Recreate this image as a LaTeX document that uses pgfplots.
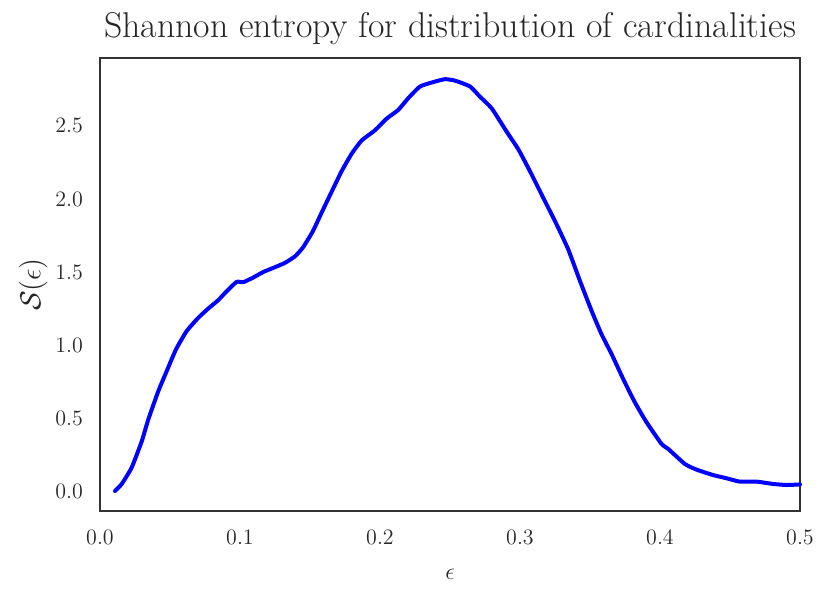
\documentclass[border=0pt]{standalone}
\usepackage{pgfplots}
\pgfplotsset{compat=1.18}
\definecolor{txt}{RGB}{38,38,38}
\definecolor{frame}{RGB}{51,51,51}
\begin{document}
\begin{tikzpicture}
\begin{axis}[
  scale only axis,
  width=350pt, height=226.5pt,
  xmin=0, xmax=0.5,
  ymin=-0.137, ymax=2.965,
  xtick={0,0.1,0.2,0.3,0.4,0.5},
  ytick={0,0.5,1,1.5,2,2.5},
  xticklabels={0.0,0.1,0.2,0.3,0.4,0.5},
  yticklabels={0.0,0.5,1.0,1.5,2.0,2.5},
  major tick length=0pt,
  axis line style={frame, line width=1.25pt},
  tick label style={font=\fontsize{11}{13}\selectfont, text=txt},
  xticklabel style={yshift=-6pt},
  yticklabel style={xshift=-5pt},
  xlabel={$\epsilon$},
  ylabel={$\mathcal{S}(\epsilon)$},
  xlabel style={font=\fontsize{13}{15}\selectfont, text=txt, yshift=-5pt},
  ylabel style={font=\fontsize{14}{16}\selectfont, text=txt, yshift=-3pt},
  title={Shannon entropy for distribution of cardinalities},
  title style={font=\fontsize{17.9}{21}\selectfont, text=txt, yshift=-3pt},
  clip=false,
]
\addplot[blue, line width=2pt, line join=round, line cap=round, smooth, tension=0.3] coordinates {
(0.0107,0.00) (0.0155,0.048) (0.0226,0.16) (0.0298,0.34) (0.0345,0.49)
(0.0417,0.685) (0.0476,0.82) (0.0543,0.97) (0.0619,1.095) (0.0702,1.186)
(0.0774,1.25) (0.0845,1.307) (0.0905,1.368) (0.0976,1.432) (0.1024,1.43)
(0.1095,1.462) (0.1167,1.50) (0.1238,1.528) (0.1321,1.562) (0.1393,1.607)
(0.145,1.668) (0.152,1.778) (0.158,1.90) (0.1655,2.05) (0.1726,2.19)
(0.1798,2.31) (0.1869,2.40) (0.1964,2.47) (0.2048,2.55) (0.2131,2.61)
(0.2202,2.69) (0.2286,2.77) (0.238,2.80) (0.2464,2.82) (0.2536,2.81)
(0.2643,2.77) (0.2714,2.70) (0.2798,2.62) (0.2905,2.46) (0.2988,2.34)
(0.3071,2.19) (0.3167,2.006) (0.3262,1.824) (0.3345,1.653) (0.3429,1.437)
(0.3512,1.232) (0.3583,1.072) (0.3655,0.936) (0.3738,0.765) (0.3821,0.606)
(0.3905,0.469) (0.4012,0.321) (0.406,0.287) (0.4179,0.184) (0.4262,0.146)
(0.438,0.109) (0.4476,0.087) (0.457,0.064) (0.469,0.064) (0.481,0.048)
(0.4905,0.041) (0.5,0.045)
};
\end{axis}
\path (current axis.south west) ++(-50pt,-45pt) coordinate (bbsw);
\path (current axis.north east) ++(15pt,29pt) coordinate (bbne);
\useasboundingbox (bbsw) rectangle (bbne);
\end{tikzpicture}
\end{document}
